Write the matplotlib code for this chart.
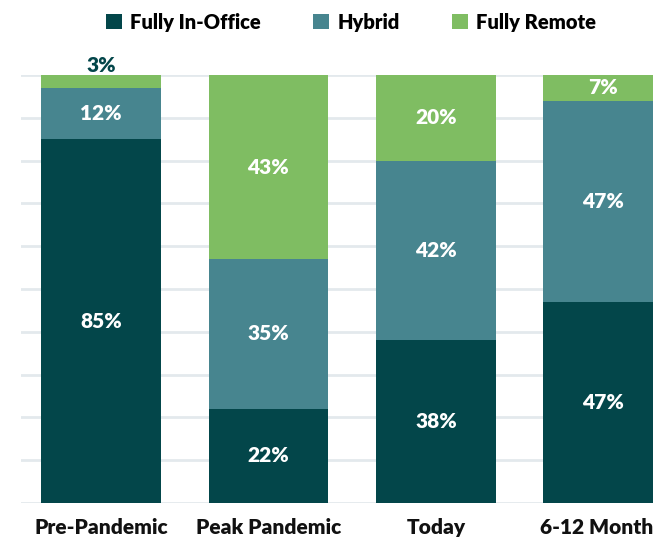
import matplotlib.pyplot as plt
from matplotlib.patches import Patch
from matplotlib.transforms import ScaledTranslation

# Data
categories = ['Pre-Pandemic', 'Peak Pandemic', 'Today', '6-12 Month']
in_office = [85, 22, 38, 47]
hybrid = [12, 35, 42, 47]
remote = [3, 43, 20, 7]

series = ['Fully In-Office', 'Hybrid', 'Fully Remote']
colors = ['#03464a', '#47858f', '#7fbd62']

plt.rcParams['font.family'] = ['Lato', 'DejaVu Sans']
W = 'heavy'

fig = plt.figure(figsize=(6.53, 5.39), dpi=100)
ax = fig.add_axes([21 / 653, 36 / 539, 666 / 653, 428 / 539])

x = list(range(len(categories)))
bottom = [0] * len(categories)
for vals, col in zip([in_office, hybrid, remote], colors):
    ax.bar(x, vals, bottom=bottom, width=0.716, color=col, zorder=3)
    for i, (b, v) in enumerate(zip(bottom, vals)):
        top = min(b + v, 100)
        if top - b < 5:
            # thin segment: label above the bar
            ax.text(i, top + 2.2, f'{v}%', ha='center', va='center',
                    color=colors[0], fontsize=15, fontweight=W)
        else:
            ax.text(i, (b + top) / 2, f'{v}%', ha='center', va='center',
                    color='white', fontsize=15, fontweight=W, zorder=4)
    bottom = [b + v for b, v in zip(bottom, vals)]

ax.set_ylim(0, 100)
ax.set_xlim(-0.478, 3.5)
ax.set_yticks(range(0, 101, 10))
ax.set_yticklabels([])
ax.tick_params(axis='y', length=0)
ax.tick_params(axis='x', length=0, pad=11)
ax.set_xticks(x)
ax.set_xticklabels(categories, fontsize=15, fontweight=W, color='#111111')
# last label is clipped by the right edge in the original; keep it inside
last = ax.get_xticklabels()[-1]
last.set_transform(last.get_transform() + ScaledTranslation(-7 / 100, 0, fig.dpi_scale_trans))
ax.grid(axis='y', color='#e3e9ed', linewidth=2, zorder=0)
for s in ax.spines.values():
    s.set_visible(False)

handles = [Patch(facecolor=c, label=s) for s, c in zip(series, colors)]
fig.legend(handles=handles, loc='center', bbox_to_anchor=(351 / 653, 1 - 22 / 539),
           ncol=3, frameon=False, handlelength=0.8, handleheight=0.8,
           handletextpad=0.4, columnspacing=2.6,
           prop={'weight': W, 'size': 14.5})

fig.savefig('out.png', dpi=100)
